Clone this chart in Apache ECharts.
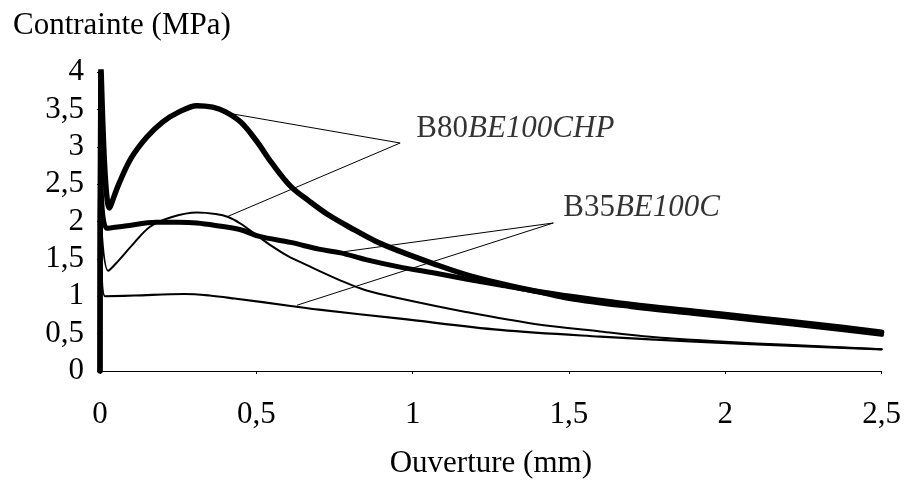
<!DOCTYPE html>
<html>
<head>
<meta charset="utf-8">
<script src="https://cdn.jsdelivr.net/npm/echarts@6/dist/echarts.min.js"></script>
<style>
html,body{margin:0;padding:0;background:#fff;}
#c{width:904px;height:492px;}
</style>
</head>
<body>
<div id="c"></div>
<script>
// ---- data ----
var xTickLabels = ['0', '0,5', '1', '1,5', '2', '2,5'];
var yTickLabels = ['0', '0,5', '1', '1,5', '2', '2,5', '3', '3,5', '4'];

// B80BE100CHP – thick curve (peak ~3.5)
var b80ThickX = [0, 0.003, 0.03, 0.06, 0.1, 0.15, 0.2, 0.25, 0.31, 0.36, 0.4, 0.45, 0.5, 0.55, 0.61, 0.67, 0.73, 0.8, 0.88, 0.96, 1.07, 1.17, 1.28, 1.39, 1.5, 1.7, 1.9, 2.1, 2.3, 2.5];
var b80ThickY = [0, 4.05, 2.18, 2.5, 2.85, 3.13, 3.33, 3.46, 3.55, 3.53, 3.47, 3.33, 3.08, 2.78, 2.47, 2.27, 2.09, 1.92, 1.74, 1.6, 1.43, 1.29, 1.17, 1.07, 1.0, 0.89, 0.8, 0.71, 0.62, 0.52];
// B80BE100CHP – thin curve (peak ~2.1)
var b80ThinX = [0, 0.003, 0.026, 0.06, 0.1, 0.16, 0.23, 0.31, 0.37, 0.41, 0.45, 0.5, 0.55, 0.6, 0.66, 0.77, 0.85, 0.96, 1.17, 1.39, 1.6, 1.81, 2.0, 2.2, 2.5];
var b80ThinY = [0, 2.0, 1.34, 1.48, 1.67, 1.93, 2.06, 2.12, 2.1, 2.06, 1.97, 1.82, 1.67, 1.54, 1.42, 1.21, 1.08, 0.97, 0.79, 0.63, 0.53, 0.44, 0.39, 0.35, 0.29];
// B35BE100C – thick curve (~2)
var b35ThickX = [0, 0.003, 0.022, 0.08, 0.18, 0.25, 0.31, 0.38, 0.45, 0.51, 0.61, 0.7, 0.77, 0.85, 0.96, 1.07, 1.17, 1.28, 1.39, 1.5, 1.7, 1.9, 2.1, 2.3, 2.5];
var b35ThickY = [0, 2.6, 1.91, 1.94, 1.99, 1.99, 1.98, 1.94, 1.89, 1.8, 1.72, 1.63, 1.58, 1.49, 1.39, 1.31, 1.23, 1.15, 1.07, 0.97, 0.86, 0.77, 0.68, 0.59, 0.49];
// B35BE100C – thin curve (~1)
var b35ThinX = [0, 0.003, 0.016, 0.11, 0.27, 0.35, 0.43, 0.61, 0.7, 0.96, 1.28, 1.6, 1.92, 2.2, 2.5];
var b35ThinY = [0, 1.6, 1.0, 1.01, 1.03, 1.01, 0.97, 0.87, 0.82, 0.7, 0.55, 0.46, 0.39, 0.34, 0.29];

// annotation anchors (data units)
var b80LabelPos = [1.01, 3.24];
var b35LabelPos = [1.48, 2.18];
var b80Leaders = [[[0.96, 3.05], [0.423, 3.44]], [[0.96, 3.05], [0.41, 2.07]]];
var b35Leaders = [[[1.45, 1.98], [0.77, 1.59]], [[1.45, 1.98], [0.63, 0.88]]];

function zip(xs, ys) { return xs.map(function (x, i) { return [x, ys[i]]; }); }
function leaderData(arr) {
  return arr.map(function (p) { return [{ coord: p[0] }, { coord: p[1] }]; });
}

var FONT = "'Liberation Serif', 'Times New Roman', serif";
var chart = echarts.init(document.getElementById('c'));

function curve(name, data, width) {
  return {
    name: name, type: 'line', data: data, showSymbol: false, symbol: 'none',
    smooth: 0.35,
    lineStyle: { color: '#000', width: width, cap: 'round', join: 'round' },
    silent: true, z: 3
  };
}

chart.setOption({
  animation: false,
  backgroundColor: '#fff',
  title: {
    text: 'Contrainte (MPa)', left: 8, top: 5,
    textStyle: { fontFamily: FONT, fontSize: 31, fontWeight: 'normal', color: '#000' }
  },
  grid: { left: 100, right: 22, top: 72, bottom: 121, containLabel: false },
  xAxis: {
    type: 'value', min: 0, max: 2.5, interval: 0.5,
    name: 'Ouverture (mm)', nameLocation: 'middle', nameGap: 77,
    nameTextStyle: { fontFamily: FONT, fontSize: 31, color: '#000' },
    axisLine: { lineStyle: { color: '#000', width: 1.2 } },
    axisTick: { show: true, length: 3, lineStyle: { color: '#000' } },
    splitLine: { show: false },
    axisLabel: {
      fontFamily: FONT, fontSize: 31, color: '#000', margin: 28,
      formatter: function (v) { return xTickLabels[Math.round(v / 0.5)]; }
    }
  },
  yAxis: {
    type: 'value', min: 0, max: 4, interval: 0.5,
    axisLine: { show: true, lineStyle: { color: '#000', width: 3.5 } },
    axisTick: { show: true, length: 3, lineStyle: { color: '#000' } },
    splitLine: { show: false },
    axisLabel: {
      fontFamily: FONT, fontSize: 31, color: '#000', margin: 16,
      formatter: function (v) { return yTickLabels[Math.round(v / 0.5)]; }
    }
  },
  series: [
    curve('B80BE100CHP', zip(b80ThickX, b80ThickY), 5.5),
    curve('B35BE100C', zip(b35ThickX, b35ThickY), 5),
    curve('B80BE100CHP ', zip(b80ThinX, b80ThinY), 2),
    curve('B35BE100C ', zip(b35ThinX, b35ThinY), 2.2),
    {
      type: 'scatter', symbolSize: 1, itemStyle: { color: 'rgba(0,0,0,0)' }, silent: true, z: 4,
      data: [
        { value: b80LabelPos, label: { formatter: '{n|B80}{i|BE100CHP}' } },
        { value: b35LabelPos, label: { formatter: '{n|B35}{i|BE100C}' } }
      ],
      label: {
        show: true, position: 'right', distance: 0, color: '#000',
        rich: {
          n: { fontFamily: FONT, fontSize: 31, color: '#000' },
          i: { fontFamily: FONT, fontSize: 31, fontStyle: 'italic', color: '#000' }
        }
      },
      markLine: {
        silent: true, symbol: ['none', 'none'], animation: false,
        label: { show: false },
        lineStyle: { color: '#000', width: 1, type: 'solid' },
        emphasis: { disabled: true },
        data: leaderData(b80Leaders).concat(leaderData(b35Leaders))
      }
    }
  ]
});
</script>
</body>
</html>
